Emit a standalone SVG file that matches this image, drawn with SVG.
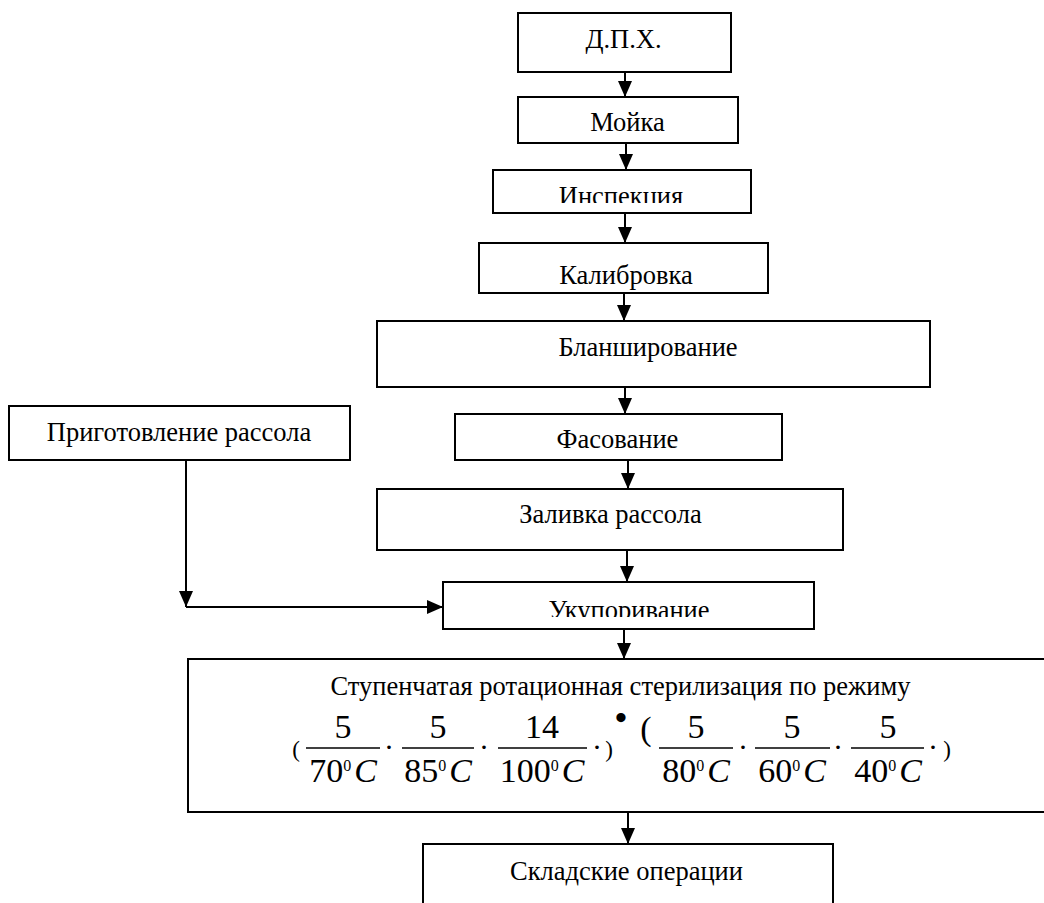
<svg xmlns="http://www.w3.org/2000/svg" width="1044" height="903" viewBox="0 0 1044 903">
<style>
.box{fill:#fff;stroke:#000;stroke-width:2}
.t{font-family:"Liberation Serif","Times New Roman",serif;font-size:26.5px;fill:#000;text-anchor:middle}
.m{font-family:"Liberation Serif","Times New Roman",serif;font-size:34px;fill:#000;text-anchor:middle}
.p{font-size:23px}
.d{font-size:30px}
.sup{font-size:16px}
.it{font-style:italic}
.fl{stroke:#000;stroke-width:1.5}
.c{fill:none;stroke:#000;stroke-width:2}
</style>
<defs>
<marker id="ah" viewBox="0 0 16 14" refX="16" refY="7" markerWidth="16" markerHeight="14" markerUnits="userSpaceOnUse" orient="auto">
<path d="M0,0 L16,7 L0,14 z" fill="#000"/>
</marker>
<clipPath id="clipInsp"><rect x="493" y="170" width="258" height="33"/></clipPath>
<clipPath id="clipUkup"><rect x="443" y="582" width="371" height="35"/></clipPath>
</defs>
<g id="connectors">
<line class="c" x1="625" y1="72" x2="625" y2="97" marker-end="url(#ah)"/>
<line class="c" x1="626" y1="143" x2="626" y2="170" marker-end="url(#ah)"/>
<line class="c" x1="625" y1="213" x2="625" y2="243" marker-end="url(#ah)"/>
<line class="c" x1="624" y1="293" x2="624" y2="321" marker-end="url(#ah)"/>
<line class="c" x1="625" y1="387" x2="625" y2="414" marker-end="url(#ah)"/>
<line class="c" x1="628" y1="460" x2="628" y2="489" marker-end="url(#ah)"/>
<line class="c" x1="627" y1="550" x2="627" y2="582" marker-end="url(#ah)"/>
<line class="c" x1="624" y1="629" x2="624" y2="659" marker-end="url(#ah)"/>
<line class="c" x1="628" y1="812" x2="628" y2="844" marker-end="url(#ah)"/>
<line class="c" x1="186" y1="460" x2="186" y2="607" marker-end="url(#ah)"/>
<line class="c" x1="186" y1="607" x2="443" y2="607" marker-end="url(#ah)"/>
</g>
<g id="n_dph"><rect class="box" x="518" y="13" width="213" height="59"/><text class="t" x="623.5" y="48">Д.П.Х.</text></g>
<g id="n_moyka"><rect class="box" x="518" y="97" width="220" height="46"/><text class="t" x="627.5" y="131">Мойка</text></g>
<g id="n_insp"><rect class="box" x="493" y="170" width="258" height="43"/><text class="t" x="621" y="205" clip-path="url(#clipInsp)">Инспекция</text></g>
<g id="n_kalib"><rect class="box" x="479" y="243" width="289" height="50"/><text class="t" x="626" y="284">Калибровка</text></g>
<g id="n_blansh"><rect class="box" x="377" y="321" width="553" height="66"/><text class="t" x="648" y="356">Бланширование</text></g>
<g id="n_prig"><rect class="box" x="9" y="406" width="341" height="54"/><text class="t" x="179" y="441">Приготовление рассола</text></g>
<g id="n_fasov"><rect class="box" x="455" y="414" width="327" height="46"/><text class="t" x="617.5" y="448">Фасование</text></g>
<g id="n_zaliv"><rect class="box" x="377" y="489" width="466" height="61"/><text class="t" x="610.5" y="523">Заливка рассола</text></g>
<g id="n_ukup"><rect class="box" x="443" y="582" width="371" height="47"/><text class="t" x="629" y="619" clip-path="url(#clipUkup)">Укупоривание</text></g>
<g id="n_steril">
<rect class="box" x="188" y="659" width="860" height="153"/>
<text class="t" x="620.5" y="695">Ступенчатая ротационная стерилизация по режиму</text>
<text class="m p" x="296" y="757">(</text>
<text class="m" x="343" y="738">5</text>
<line class="fl" x1="306" y1="748" x2="380" y2="748"/>
<text class="m" x="343" y="782">70<tspan class="sup" dy="-11">0</tspan><tspan class="it" dx="3" dy="11">C</tspan></text>
<text class="m d" x="389" y="757">·</text>
<text class="m" x="438" y="738">5</text>
<line class="fl" x1="402" y1="748" x2="474" y2="748"/>
<text class="m" x="438" y="782">85<tspan class="sup" dy="-11">0</tspan><tspan class="it" dx="3" dy="11">C</tspan></text>
<text class="m d" x="484" y="757">·</text>
<text class="m" x="542" y="738">14</text>
<line class="fl" x1="498" y1="748" x2="587" y2="748"/>
<text class="m" x="542" y="782">100<tspan class="sup" dy="-11">0</tspan><tspan class="it" dx="3" dy="11">C</tspan></text>
<text class="m d" x="597" y="757">·</text>
<text class="m p" x="609" y="757">)</text>
<text class="m" x="621" y="729" font-size="15" font-weight="bold">•</text>
<text class="m" x="646" y="740" font-size="30" fill="#24508e">(</text>
<text class="m" x="696" y="738">5</text>
<line class="fl" x1="659" y1="748" x2="733" y2="748"/>
<text class="m" x="696" y="782">80<tspan class="sup" dy="-11">0</tspan><tspan class="it" dx="3" dy="11">C</tspan></text>
<text class="m d" x="743" y="757">·</text>
<text class="m" x="792" y="738">5</text>
<line class="fl" x1="755" y1="748" x2="830" y2="748"/>
<text class="m" x="792" y="782">60<tspan class="sup" dy="-11">0</tspan><tspan class="it" dx="3" dy="11">C</tspan></text>
<text class="m d" x="838" y="757">·</text>
<text class="m" x="888" y="738">5</text>
<line class="fl" x1="851" y1="748" x2="924" y2="748"/>
<text class="m" x="888" y="782">40<tspan class="sup" dy="-11">0</tspan><tspan class="it" dx="3" dy="11">C</tspan></text>
<text class="m d" x="933" y="757">·</text>
<text class="m p" x="947" y="757">)</text>
</g>
<g id="n_sklad"><rect class="box" x="423" y="844" width="410" height="70"/><text class="t" x="626.5" y="880">Складские операции</text></g>
</svg>
